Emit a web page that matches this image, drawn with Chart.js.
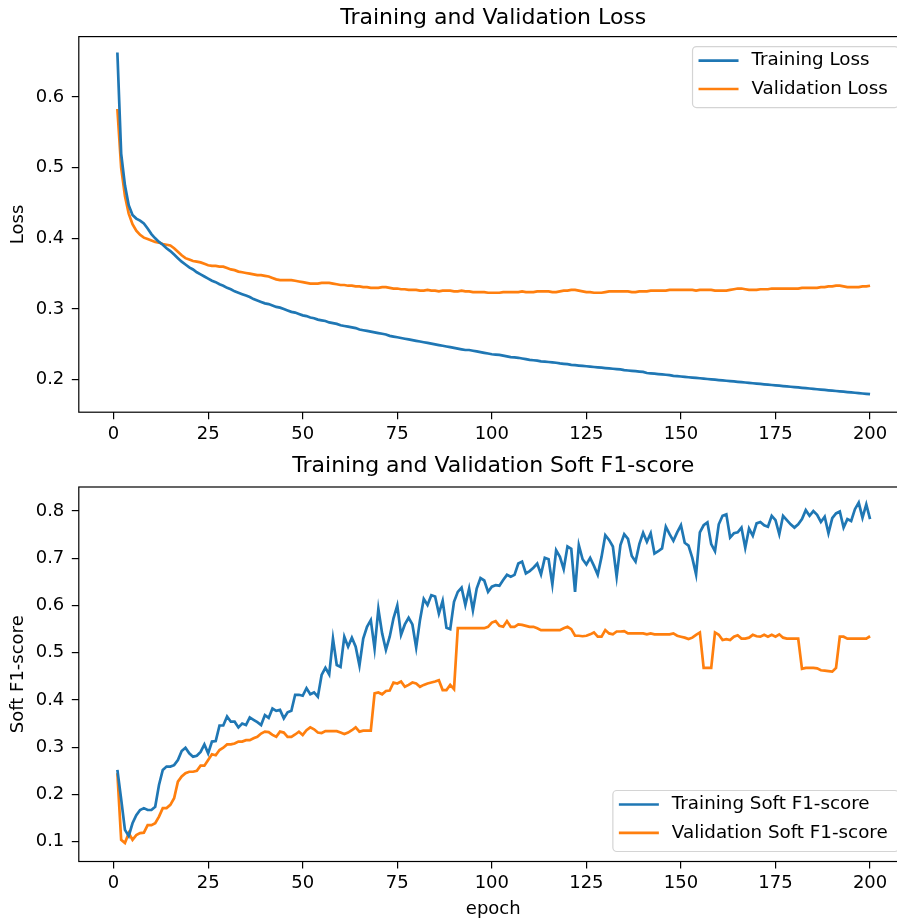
<!DOCTYPE html>
<html>
<head>
<meta charset="utf-8">
<title>Training and Validation Loss / Soft F1-score</title>
<script src="https://cdn.jsdelivr.net/npm/chart.js@4.4.1/dist/chart.umd.min.js"></script>
<style>
    html, body { margin: 0; padding: 0; background: #fff; overflow: hidden; }
    #lossChart { position: absolute; left: 0; top: 0; }
    #f1Chart { position: absolute; left: 0; top: 445px; }
</style>
</head>
<body>
<canvas id="lossChart" width="940" height="445"></canvas>
<canvas id="f1Chart" width="940" height="476"></canvas>
<script>
// epochs 1..200
const epochs = Array.from({ length: 200 }, (_, i) => i + 1);
const xTicks = [0, 25, 50, 75, 100, 125, 150, 175, 200];
const lossTicks = [0.2, 0.3, 0.4, 0.5, 0.6];
const f1Ticks = [0.1, 0.2, 0.3, 0.4, 0.5, 0.6, 0.7, 0.8];

const trainLoss = [
    0.663, 0.52, 0.475, 0.447, 0.433, 0.428, 0.425, 0.421, 0.414, 0.406,
    0.400, 0.395, 0.391, 0.386, 0.382, 0.377, 0.372, 0.367, 0.363, 0.359,
    0.356, 0.352, 0.349, 0.346, 0.343, 0.340, 0.338, 0.335, 0.333, 0.330,
    0.328, 0.325, 0.323, 0.321, 0.319, 0.317, 0.314, 0.312, 0.310, 0.308,
    0.307, 0.305, 0.303, 0.302, 0.300, 0.298, 0.296, 0.295, 0.293, 0.291,
    0.290, 0.288, 0.287, 0.285, 0.284, 0.283, 0.281, 0.280, 0.279, 0.277,
    0.276, 0.275, 0.274, 0.273, 0.271, 0.270, 0.269, 0.268, 0.267, 0.266,
    0.265, 0.264, 0.262, 0.261, 0.260, 0.259, 0.258, 0.257, 0.256, 0.255,
    0.254, 0.253, 0.252, 0.251, 0.250, 0.249, 0.248, 0.247, 0.246, 0.245,
    0.244, 0.243, 0.242, 0.242, 0.241, 0.240, 0.239, 0.238, 0.237, 0.236,
    0.2355, 0.235, 0.234, 0.233, 0.232, 0.2315, 0.231, 0.230, 0.229, 0.228,
    0.2275, 0.227, 0.226, 0.2255, 0.225, 0.2245, 0.224, 0.223, 0.2225, 0.222,
    0.221, 0.2205, 0.220, 0.2195, 0.219, 0.2185, 0.218, 0.2175, 0.217, 0.2165,
    0.216, 0.2155, 0.215, 0.2145, 0.2135, 0.213, 0.2125, 0.212, 0.2115, 0.211,
    0.2095, 0.209, 0.2085, 0.208, 0.2075, 0.207, 0.2065, 0.2055, 0.205, 0.2045,
    0.204, 0.2035, 0.203, 0.2025, 0.202, 0.2015, 0.201, 0.2005, 0.200, 0.1995,
    0.199, 0.1985, 0.198, 0.1975, 0.197, 0.1965, 0.196, 0.1955, 0.195, 0.1945,
    0.194, 0.1935, 0.193, 0.1925, 0.192, 0.1915, 0.191, 0.1905, 0.190, 0.1895,
    0.189, 0.1885, 0.188, 0.1875, 0.187, 0.1865, 0.186, 0.1855, 0.185, 0.1845,
    0.184, 0.1835, 0.183, 0.1825, 0.182, 0.1815, 0.181, 0.1805, 0.180, 0.1795
];

const valLoss = [
    0.583, 0.50, 0.46, 0.435, 0.42, 0.411, 0.405, 0.401, 0.399, 0.397,
    0.395, 0.394, 0.392, 0.391, 0.390, 0.386, 0.381, 0.376, 0.372, 0.370,
    0.368, 0.367, 0.366, 0.364, 0.362, 0.361, 0.361, 0.360, 0.360, 0.358,
    0.356, 0.355, 0.353, 0.352, 0.351, 0.350, 0.349, 0.348, 0.348, 0.347,
    0.346, 0.344, 0.342, 0.341, 0.341, 0.341, 0.341, 0.340, 0.339, 0.338,
    0.337, 0.336, 0.336, 0.336, 0.337, 0.337, 0.337, 0.336, 0.335, 0.334,
    0.334, 0.333, 0.333, 0.332, 0.332, 0.331, 0.331, 0.330, 0.330, 0.330,
    0.331, 0.331, 0.330, 0.329, 0.329, 0.328, 0.328, 0.327, 0.327, 0.327,
    0.326, 0.326, 0.327, 0.326, 0.326, 0.325, 0.326, 0.326, 0.326, 0.325,
    0.325, 0.326, 0.325, 0.325, 0.324, 0.324, 0.324, 0.324, 0.323, 0.323,
    0.323, 0.323, 0.324, 0.324, 0.324, 0.324, 0.324, 0.325, 0.324, 0.324,
    0.324, 0.325, 0.325, 0.325, 0.325, 0.324, 0.324, 0.325, 0.326, 0.326,
    0.327, 0.327, 0.326, 0.325, 0.324, 0.324, 0.323, 0.323, 0.323, 0.324,
    0.325, 0.325, 0.325, 0.325, 0.325, 0.325, 0.324, 0.324, 0.325, 0.325,
    0.325, 0.326, 0.326, 0.326, 0.326, 0.326, 0.327, 0.327, 0.327, 0.327,
    0.327, 0.327, 0.327, 0.326, 0.327, 0.327, 0.327, 0.327, 0.326, 0.326,
    0.326, 0.326, 0.327, 0.328, 0.329, 0.329, 0.328, 0.327, 0.327, 0.327,
    0.328, 0.328, 0.328, 0.329, 0.329, 0.329, 0.329, 0.329, 0.329, 0.329,
    0.329, 0.330, 0.330, 0.330, 0.330, 0.330, 0.331, 0.331, 0.332, 0.332,
    0.333, 0.333, 0.332, 0.331, 0.331, 0.331, 0.331, 0.332, 0.332, 0.333
];

const trainF1 = [
    0.252, 0.19, 0.125, 0.112, 0.139, 0.156, 0.167, 0.171, 0.167, 0.167,
    0.174, 0.22, 0.252, 0.259, 0.259, 0.262, 0.273, 0.292, 0.299, 0.287,
    0.28, 0.282, 0.29, 0.306, 0.287, 0.312, 0.313, 0.346, 0.346, 0.365,
    0.354, 0.354, 0.342, 0.35, 0.347, 0.363, 0.358, 0.353, 0.347, 0.368,
    0.362, 0.382, 0.377, 0.379, 0.361, 0.374, 0.377, 0.411, 0.411, 0.409,
    0.425, 0.412, 0.416, 0.407, 0.453, 0.468, 0.454, 0.53, 0.474, 0.47,
    0.534, 0.513, 0.532, 0.513, 0.473, 0.53, 0.555, 0.569, 0.509, 0.593,
    0.541, 0.506, 0.534, 0.573, 0.6, 0.538, 0.56, 0.574, 0.56, 0.511,
    0.569, 0.614, 0.601, 0.622, 0.619, 0.583, 0.61, 0.553, 0.55, 0.608,
    0.629, 0.638, 0.601, 0.636, 0.59, 0.636, 0.658, 0.653, 0.629, 0.64,
    0.643, 0.642, 0.654, 0.665, 0.661, 0.665, 0.689, 0.693, 0.668, 0.673,
    0.68, 0.689, 0.666, 0.701, 0.698, 0.645, 0.717, 0.703, 0.677, 0.725,
    0.72, 0.629, 0.728, 0.698, 0.687, 0.701, 0.684, 0.665, 0.703, 0.749,
    0.739, 0.725, 0.661, 0.728, 0.751, 0.741, 0.705, 0.693, 0.73, 0.754,
    0.735, 0.753, 0.71, 0.715, 0.721, 0.767, 0.751, 0.737, 0.755, 0.77,
    0.733, 0.727, 0.701, 0.666, 0.755, 0.77, 0.776, 0.73, 0.715, 0.772,
    0.79, 0.793, 0.744, 0.753, 0.755, 0.765, 0.722, 0.763, 0.748, 0.774,
    0.777, 0.77, 0.767, 0.79, 0.781, 0.751, 0.79, 0.781, 0.772, 0.765,
    0.772, 0.783, 0.802, 0.79, 0.8, 0.792, 0.777, 0.788, 0.753, 0.785,
    0.795, 0.799, 0.765, 0.783, 0.779, 0.804, 0.818, 0.786, 0.814, 0.783
];

const valF1 = [
    0.245, 0.104, 0.097, 0.118, 0.104, 0.114, 0.118, 0.119, 0.135, 0.135,
    0.139, 0.153, 0.171, 0.171, 0.178, 0.192, 0.227, 0.238, 0.245, 0.248,
    0.248, 0.25, 0.261, 0.261, 0.273, 0.285, 0.283, 0.294, 0.299, 0.306,
    0.306, 0.308, 0.312, 0.312, 0.315, 0.315, 0.319, 0.322, 0.329, 0.333,
    0.332, 0.326, 0.322, 0.333, 0.331, 0.322, 0.322, 0.327, 0.333, 0.326,
    0.336, 0.342, 0.338, 0.331, 0.33, 0.334, 0.334, 0.334, 0.334, 0.331,
    0.328, 0.331, 0.336, 0.342, 0.333, 0.335, 0.335, 0.335, 0.414, 0.416,
    0.412, 0.419, 0.42, 0.437, 0.435, 0.439, 0.428, 0.432, 0.437, 0.435,
    0.428, 0.432, 0.435, 0.437, 0.439, 0.442, 0.421, 0.421, 0.432, 0.423,
    0.552, 0.552, 0.552, 0.552, 0.552, 0.552, 0.552, 0.552, 0.555, 0.564,
    0.567, 0.557, 0.555, 0.567, 0.555, 0.555, 0.56, 0.559, 0.557, 0.555,
    0.555, 0.552, 0.548, 0.548, 0.548, 0.548, 0.548, 0.548, 0.552, 0.555,
    0.55, 0.536, 0.536, 0.535, 0.536, 0.539, 0.543, 0.534, 0.534, 0.548,
    0.541, 0.539, 0.545, 0.545, 0.546, 0.541, 0.541, 0.541, 0.541, 0.541,
    0.539, 0.541, 0.539, 0.539, 0.539, 0.539, 0.539, 0.541, 0.536, 0.534,
    0.532, 0.529, 0.532, 0.538, 0.543, 0.468, 0.468, 0.468, 0.543, 0.538,
    0.527, 0.529, 0.527, 0.534, 0.537, 0.53, 0.53, 0.532, 0.538, 0.535,
    0.534, 0.538, 0.534, 0.538, 0.534, 0.539, 0.532, 0.53, 0.53, 0.53,
    0.53, 0.466, 0.468, 0.468, 0.468, 0.467, 0.463, 0.462, 0.461, 0.46,
    0.468, 0.534, 0.534, 0.53, 0.53, 0.53, 0.53, 0.53, 0.53, 0.535
];

const BLUE = '#1f77b4';
const ORANGE = '#ff7f0e';
const FONT = '"DejaVu Sans", "Liberation Sans", sans-serif';
const LINE_W = 2.7;
const CANVAS_W = 940;
const AREA_RIGHT = 907.7;

// matplotlib-like axes frame, centred title and legend box
const framePlugin = {
    id: 'frame',
    afterDraw(chart, args, opts) {
        const { ctx, chartArea: a } = chart;
        ctx.save();
        ctx.strokeStyle = '#000';
        ctx.lineWidth = 1.2;
        ctx.strokeRect(a.left, a.top, a.right - a.left, a.bottom - a.top);

        // title centred over the axes
        ctx.fillStyle = '#000';
        ctx.font = '22px ' + FONT;
        ctx.textAlign = 'center';
        ctx.textBaseline = 'middle';
        ctx.fillText(opts.title, (a.left + a.right) / 2, a.top - opts.titleGap);

        // legend
        ctx.font = '18.3px ' + FONT;
        const sets = chart.data.datasets;
        const textW = Math.max(...sets.map(d => ctx.measureText(d.label).width));
        const right = a.right - 9;
        const w = 6 + 40 + 13 + textW + 11;
        const h = 61;
        const left = right - w;
        const top = opts.corner === 'top' ? a.top + 10 : a.bottom - 10 - h;
        ctx.fillStyle = 'rgba(255,255,255,0.8)';
        ctx.strokeStyle = '#d4d4d4';
        ctx.lineWidth = 1.2;
        ctx.beginPath();
        ctx.roundRect(left, top, w, h, 4);
        ctx.fill();
        ctx.stroke();
        sets.forEach((d, i) => {
            const y = top + 14 + i * 28.4;
            ctx.strokeStyle = d.borderColor;
            ctx.lineWidth = d.borderWidth;
            ctx.beginPath();
            ctx.moveTo(left + 6, y);
            ctx.lineTo(left + 46, y);
            ctx.stroke();
            ctx.fillStyle = '#000';
            ctx.textBaseline = 'middle';
            ctx.textAlign = 'left';
            ctx.fillText(d.label, left + 59, y);
        });
        ctx.restore();
    }
};

function series(label, values, color) {
    return {
        label: label,
        data: values.map((v, i) => ({ x: epochs[i], y: v })),
        borderColor: color,
        backgroundColor: color,
        borderWidth: LINE_W,
        pointRadius: 0,
        tension: 0,
        fill: false
    };
}

function makeChart(id, opts) {
    const ctx = document.getElementById(id).getContext('2d');
    return new Chart(ctx, {
        type: 'line',
        data: { datasets: opts.datasets },
        plugins: [framePlugin],
        options: {
            responsive: false,
            devicePixelRatio: 1,
            animation: false,
            layout: { padding: { left: 0, right: CANVAS_W - AREA_RIGHT, top: opts.areaTop, bottom: 0 } },
            plugins: {
                legend: { display: false },
                tooltip: { enabled: false },
                title: { display: false },
                frame: { corner: opts.legendCorner, title: opts.title, titleGap: opts.titleGap }
            },
            scales: {
                x: {
                    type: 'linear',
                    min: -9.2,
                    max: 209.95,
                    afterBuildTicks: s => { s.ticks = xTicks.map(v => ({ value: v })); },
                    afterFit: s => { s.height = opts.xHeight; },
                    grid: { display: true, drawOnChartArea: false, drawTicks: true, tickLength: 7, color: '#000', lineWidth: 1.2 },
                    border: { display: false },
                    ticks: { color: '#000', font: { family: FONT, size: 18 }, padding: 4, maxRotation: 0 },
                    title: {
                        display: !!opts.xTitle,
                        text: opts.xTitle || '',
                        color: '#000',
                        font: { family: FONT, size: 18 },
                        padding: { top: 0, bottom: 1.2 }
                    }
                },
                y: {
                    type: 'linear',
                    min: opts.yMin,
                    max: opts.yMax,
                    afterBuildTicks: s => { s.ticks = opts.yTicks.map(v => ({ value: v })); },
                    afterFit: s => { s.width = 78.8; },
                    grid: { display: true, drawOnChartArea: false, drawTicks: true, tickLength: 7, color: '#000', lineWidth: 1.2 },
                    border: { display: false },
                    ticks: {
                        color: '#000',
                        font: { family: FONT, size: 18 },
                        padding: 7.5,
                        callback: v => v.toFixed(1)
                    },
                    title: {
                        display: true,
                        text: opts.yTitle,
                        color: '#000',
                        font: { family: FONT, size: 18 },
                        padding: { top: 7.2, bottom: 0 }
                    }
                }
            }
        }
    });
}

document.addEventListener('DOMContentLoaded', function() {
    makeChart('lossChart', {
        title: 'Training and Validation Loss',
        areaTop: 36.6,
        titleGap: 18,
        datasets: [
            series('Training Loss', trainLoss, BLUE),
            series('Validation Loss', valLoss, ORANGE)
        ],
        yMin: 0.154,
        yMax: 0.6855,
        yTicks: lossTicks,
        yTitle: 'Loss',
        xHeight: 32.8,
        legendCorner: 'top'
    });

    makeChart('f1Chart', {
        title: 'Training and Validation Soft F1-score',
        areaTop: 42,
        titleGap: 20.5,
        datasets: [
            series('Training Soft F1-score', trainF1, BLUE),
            series('Validation Soft F1-score', valF1, ORANGE)
        ],
        yMin: 0.058,
        yMax: 0.851,
        yTicks: f1Ticks,
        yTitle: 'Soft F1-score',
        xTitle: 'epoch',
        xHeight: 59.5,
        legendCorner: 'bottom'
    });
});
</script>
</body>
</html>
